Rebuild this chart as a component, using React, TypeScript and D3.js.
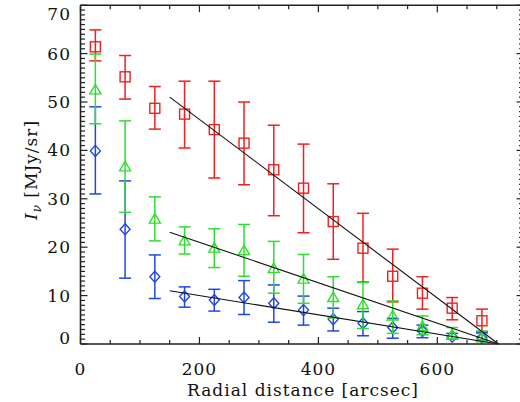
import React from "react";
import * as d3 from "d3";

const radius = [25, 75, 125, 175, 225, 275, 325, 375, 425, 475, 525, 575, 625, 675];

const redVal = [61.4, 55.2, 48.7, 47.5, 44.3, 41.5, 36.0, 32.2, 25.3, 19.8, 14.0, 10.5, 7.4, 4.8];
const redHi = [64.9, 59.6, 53.2, 54.3, 54.3, 50.0, 45.2, 41.3, 33.1, 27.0, 19.6, 13.9, 9.6, 7.2];
const redLo = [58.5, 50.6, 44.4, 40.5, 34.3, 32.9, 26.5, 23.0, 17.5, 12.8, 8.7, 7.2, 5.0, 2.5];

const greenVal = [52.5, 36.6, 25.8, 21.3, 19.8, 19.3, 15.6, 13.4, 9.6, 8.1, 5.8, 3.6, 1.9, 1.3];
const greenHi = [59.9, 46.1, 30.4, 24.2, 23.8, 24.7, 21.2, 18.5, 13.9, 12.7, 8.9, 5.8, 3.4, 2.7];
const greenLo = [45.5, 27.2, 21.3, 18.6, 15.8, 14.0, 10.5, 8.4, 5.4, 3.2, 2.2, 1.9, 1.0, 0.8];

const blueVal = [39.9, 23.7, 13.9, 9.8, 9.1, 9.6, 8.4, 7.0, 5.1, 4.3, 3.4, 2.7, 1.5, 1.3];
const blueHi = [49.0, 33.7, 18.4, 11.8, 11.3, 13.1, 12.2, 9.9, 7.4, 6.7, 5.3, 3.9, 2.2, 2.3];
const blueLo = [31.0, 13.6, 9.4, 7.6, 6.8, 6.1, 4.5, 3.9, 2.7, 1.7, 1.2, 1.3, 1.0, 0.8];

const fitX = [150, 703];
const redFit = [51.0, 0];
const greenFit = [23.1, 0];
const blueFit = [11.0, 0];

const xMajor = [0, 200, 400, 600];
const yMajor = [0, 10, 20, 30, 40, 50, 60, 70];

const W = 520;
const H = 402;

const x = d3.scaleLinear().domain([0, 745]).range([80.5, 80.5 + 745 * 0.5947]);
const y = d3.scaleLinear().domain([0, 70]).range([344, 5.2]);

const RED = "#f02020";
const GREEN = "#30dd30";
const BLUE = "#2048e0";

const font = "'DejaVu Serif', serif";

type Shape = "square" | "triangle" | "diamond";

function Marker({ cx, cy, shape, color }: { cx: number; cy: number; shape: Shape; color: string }) {
  if (shape === "square") {
    return <rect x={cx - 5} y={cy - 5} width={10} height={10} fill="none" stroke={color} strokeWidth={1.4} />;
  }
  if (shape === "triangle") {
    const p = `${cx},${cy - 5.5} ${cx + 5.5},${cy + 4} ${cx - 5.5},${cy + 4}`;
    return <polygon points={p} fill="none" stroke={color} strokeWidth={1.4} />;
  }
  const p = `${cx},${cy - 5.5} ${cx + 5},${cy} ${cx},${cy + 5.5} ${cx - 5},${cy}`;
  return <polygon points={p} fill="none" stroke={color} strokeWidth={1.4} />;
}

function Series({ vals, hi, lo, color, shape }: { vals: number[]; hi: number[]; lo: number[]; color: string; shape: Shape }) {
  return (
    <g>
      {radius.map((r, i) => {
        const cx = x(r);
        return (
          <g key={i} stroke={color} strokeWidth={1.5}>
            <line x1={cx} x2={cx} y1={y(hi[i])} y2={y(lo[i])} />
            <line x1={cx - 6} x2={cx + 6} y1={y(hi[i])} y2={y(hi[i])} />
            <line x1={cx - 6} x2={cx + 6} y1={y(lo[i])} y2={y(lo[i])} />
            <Marker cx={cx} cy={y(vals[i])} shape={shape} color={color} />
          </g>
        );
      })}
    </g>
  );
}

export default function App() {
  const x0 = x.range()[0];
  const x1 = x.range()[1];
  const y0 = y.range()[0];
  const y1 = y.range()[1];
  const xMinor = d3.range(0, 746, 50).filter((v) => v % 200 !== 0);
  const yMinor = d3.range(0, 71, 1).filter((v) => v % 10 !== 0);
  const fitLine = (vals: number[]) =>
    d3.line<number>().x((_, i) => x(fitX[i])).y((v) => y(v))(vals) || "";

  return (
    <svg width={W} height={H} style={{ position: "absolute", left: 0, top: 0, background: "#fff" }}>
      <rect x={0} y={0} width={W} height={H} fill="#fff" />
      {/* data */}
      <Series vals={redVal} hi={redHi} lo={redLo} color={RED} shape="square" />
      <Series vals={blueVal} hi={blueHi} lo={blueLo} color={BLUE} shape="diamond" />
      <Series vals={greenVal} hi={greenHi} lo={greenLo} color={GREEN} shape="triangle" />
      {/* fits */}
      <path d={fitLine(redFit)} fill="none" stroke="#111" strokeWidth={1.1} />
      <path d={fitLine(greenFit)} fill="none" stroke="#111" strokeWidth={1.1} />
      <path d={fitLine(blueFit)} fill="none" stroke="#111" strokeWidth={1.1} />
      {/* frame */}
      <g stroke="#222" strokeWidth={1.6} fill="none">
        <line x1={x0} x2={x1} y1={y0} y2={y0} />
        <line x1={x0} x2={x1} y1={y1} y2={y1} />
        <line x1={x0} x2={x0} y1={y0} y2={y1} />
        <line x1={x1} x2={x1} y1={y0} y2={y1} />
      </g>
      {/* ticks */}
      <g stroke="#222" strokeWidth={1.2}>
        {xMajor.map((v) => (
          <g key={"xM" + v}>
            <line x1={x(v)} x2={x(v)} y1={y0} y2={y0 - 7} />
            <line x1={x(v)} x2={x(v)} y1={y1} y2={y1 + 7} />
          </g>
        ))}
        {xMinor.map((v) => (
          <g key={"xm" + v}>
            <line x1={x(v)} x2={x(v)} y1={y0} y2={y0 - 4} />
            <line x1={x(v)} x2={x(v)} y1={y1} y2={y1 + 4} />
          </g>
        ))}
        {yMajor.map((v) => (
          <g key={"yM" + v}>
            <line x1={x0} x2={x0 + 7} y1={y(v)} y2={y(v)} />
            <line x1={x1} x2={x1 - 7} y1={y(v)} y2={y(v)} />
          </g>
        ))}
        {yMinor.map((v) => (
          <g key={"ym" + v}>
            <line x1={x0} x2={x0 + 4.5} y1={y(v)} y2={y(v)} />
            <line x1={x1} x2={x1 - 4.5} y1={y(v)} y2={y(v)} />
          </g>
        ))}
      </g>
      {/* tick labels */}
      <g fontFamily={font} fontSize={17} fill="#111" letterSpacing={1}>
        {xMajor.map((v) => (
          <text key={"xl" + v} x={x(v)} y={375} textAnchor="middle">
            {v}
          </text>
        ))}
        {yMajor.map((v) => {
          let cy = y(v);
          if (v === 70) cy += 9;
          if (v === 0) cy -= 6;
          return (
            <text key={"yl" + v} x={71} y={cy + 6} textAnchor="end">
              {v}
            </text>
          );
        })}
      </g>
      {/* axis titles */}
      <text x={303} y={396} textAnchor="middle" fontFamily={font} fontSize={17} fill="#111" letterSpacing={1}>
        Radial distance [arcsec]
      </text>
      <text
        transform={`translate(37,170) rotate(-90)`}
        textAnchor="middle"
        fontFamily={font}
        fontSize={17}
        fill="#111"
        letterSpacing={1}
      >
        <tspan fontStyle="italic">I</tspan>
        <tspan fontStyle="italic" fontSize={12} dy={4}>ν</tspan>
        <tspan dy={-4}> [MJy/sr]</tspan>
      </text>
    </svg>
  );
}
